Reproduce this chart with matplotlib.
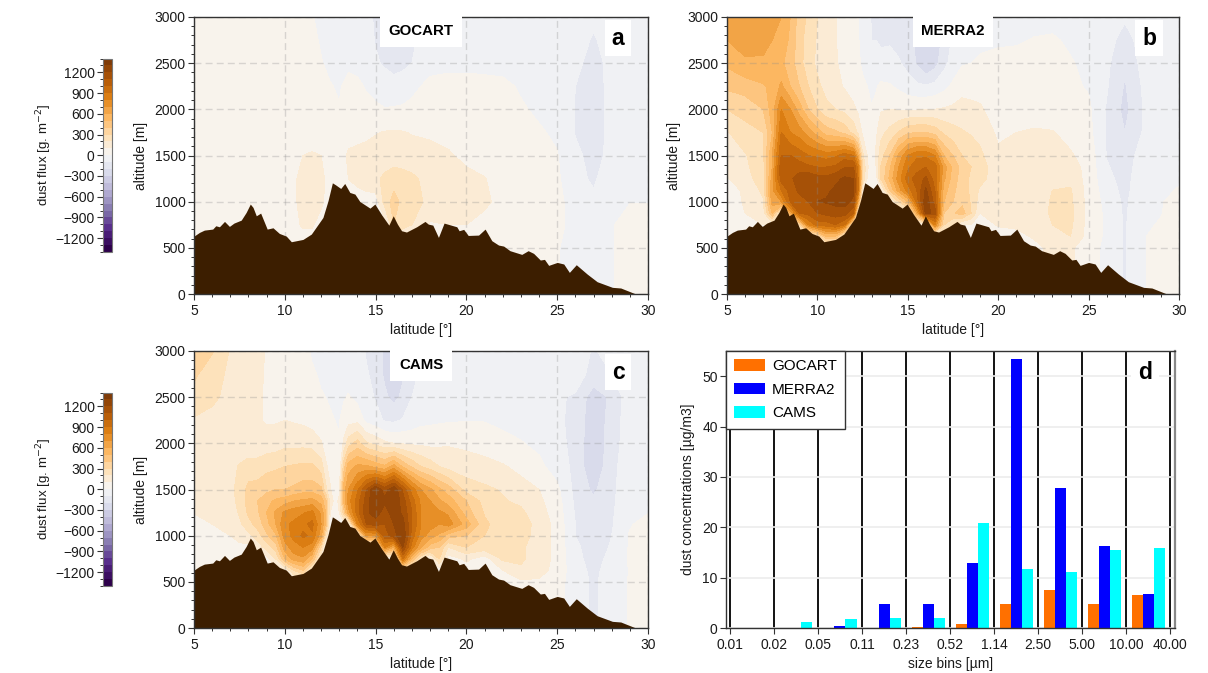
import numpy as np
import matplotlib
matplotlib.use("Agg")
import matplotlib.pyplot as plt
from matplotlib.colors import BoundaryNorm
from matplotlib.ticker import MultipleLocator

plt.rcParams['font.family'] = ['Liberation Sans', 'DejaVu Sans']
plt.rcParams['font.size'] = 10

terrain_lat = [5,5.3,5.57,6.03,6.2,6.4,6.68,6.95,7.2,7.6,7.87,8.1,8.25,8.43,8.67,9.03,9.35,9.7,10.08,10.36,
    11,11.46,12.1,12.38,12.62,12.79,13.08,13.3,13.58,13.86,14.13,14.69,14.96,15.33,15.73,15.97,16.2,16.43,16.7,
    17.26,17.72,17.9,18.15,18.46,18.77,19.47,19.6,19.85,20.1,20.67,21.03,21.4,21.77,22.05,22.4,23.05,23.4,23.7,
    24.07,24.3,24.53,25,25.36,25.67,26.05,26.65,27.2,28.04,28.5,29.33,30]
terrain_alt = [627,667,692,703,739,728,786,732,768,800,883,974,938,847,876,703,717,656,627,566,
    591,649,829,1010,1204,1183,1143,1197,1100,1082,1002,930,974,858,746,847,757,685,671,
    728,786,757,746,613,768,728,685,700,634,638,703,577,530,519,469,429,469,440,
    368,375,310,342,325,234,317,216,133,72,65,0,0]

gocart_lat = [5,6,7,7.5,8,9,10,11,11.5,12,12.5, 13,13.5,14,14.5,15,15.5,16,16.5,17,18,19, 20,21,22,23,24,25,26,27,28,29,30]
gocart_alt = [3000,2750,2500,2250,2000,1750,1500,1250,1000,750,500,0]
gocart_flux = [
 [50,50,50,50,50,50,50,20,5,-20,-30, -40,-50,-60,-80,-110,-130,-140,-130,-110,-70,-50, -40,-40,-40,-40,-40,-40,-50,-80,-50,-40,-40],
 [50,50,50,50,50,50,50,30,20,-10,-20, -30,-40,-50,-70,-105,-130,-140,-130,-110,-70,-50, -40,-40,-40,-40,-40,-40,-60,-110,-60,-40,-40],
 [50,50,50,50,50,50,50,40,30,5,-20, -30,-20,-30,-60,-90,-110,-130,-120,-100,-40,-30, -30,-30,-30,-30,-40,-40,-80,-130,-75,-40,-40],
 [50,50,50,50,50,50,50,50,40,30,5, -10,30,20,-10,-40,-60,-70,-60,-30,30,40, 40,30,20,-10,-30,-40,-100,-135,-75,-40,-40],
 [50,50,50,50,50,50,50,50,50,40,20, 5,40,40,30,20,5,10,15,30,50,50, 50,50,40,10,-15,-30,-105,-135,-75,-40,-40],
 [50,50,50,50,50,50,50,50,50,50,30, 15,60,70,80,95,105,110,105,95,85,60, 50,50,50,30,10,-15,-105,-140,-75,-30,-30],
 [50,50,50,50,50,50,50,100,110,100,40, 50,115,125,130,135,140,150,140,135,130,115, 70,50,50,45,30,5,-80,-130,-75,-30,-30],
 [50,50,50,50,50,50,50,125,130,130,50, 50,100,130,150,180,220,250,240,220,165,150, 130,105,50,50,40,15,-70,-115,-40,-20,-15],
 [50,50,50,50,50,50,50,125,130,120,50, 50,50,50,60,50,240,340,270,260,160,140, 120,130,50,50,40,30,-50,-80,-20,-5,-5],
 [50,50,50,50,50,50,50,110,110,60,50, 50,50,50,50,50,50,300,230,200,90,100, 100,50,50,50,40,30,-40,-60,-10,50,50],
 [50,50,50,50,50,50,50,50,50,50,50, 50,50,50,50,50,50,50,50,50,50,50, 50,50,50,50,20,5,-30,-40,-10,50,50],
 [50,50,50,50,50,50,50,50,50,50,50, 50,50,50,50,50,50,50,50,50,50,50, 50,50,50,50,20,5,-30,-40,-10,50,50],
]

fine_lat = [5,6,7,7.5,8,8.5,9,9.5,10,10.5,11,11.5,12,12.25,12.5,12.75,13,13.25,13.5,14,14.5,15,15.5,16,16.5,17,17.5,18,18.5,19,20,21,22,23,24,25,26,27,28,29,30]
fine_alt = [3000,2750,2500,2250,2000,1750,1500,1375,1250,1125,1000,875,750,625,500]

# one line per latitude, altitudes from 3000 m down to 500 m
merra2_by_lat = [
 [650,600,520,420,300,190,150,120,90,50,50,50,50,50,50],
 [680,650,580,450,330,270,190,180,170,120,110,100,60,50,50],
 [680,640,580,490,400,300,280,260,240,220,190,150,100,50,50],
 [620,600,530,520,550,500,600,600,650,680,650,500,100,50,50],
 [600,560,520,620,800,900,1000,1080,1050,900,700,100,50,50,50],
 [500,480,450,500,700,800,1000,1100,1080,1050,1000,600,50,50,50],
 [350,340,340,400,550,750,950,1050,1150,1120,1060,1000,300,50,50],
 [280,250,240,300,400,650,900,1020,1180,1130,1100,1030,800,50,50],
 [200,190,180,220,300,550,880,1000,1140,1170,1200,1100,950,200,50],
 [150,150,150,170,220,450,850,1000,1130,1180,1210,1130,950,500,50],
 [110,105,110,130,200,420,880,1020,1170,1220,1230,1150,1000,500,50],
 [50,60,70,90,170,370,950,1090,1220,1240,1240,1150,900,100,50],
 [10,20,30,50,120,260,900,1100,1200,1220,1180,1000,100,50,50],
 [0,5,10,30,80,180,600,850,900,900,600,50,50,50,50],
 [-30,-20,-10,10,40,80,220,300,300,100,50,50,50,50,50],
 [-60,-50,-50,0,20,50,100,120,100,50,50,50,50,50,50],
 [-110,-100,-90,-20,5,15,30,30,50,50,50,50,50,50,50],
 [-130,-100,-90,-10,30,80,120,100,50,50,50,50,50,50,50],
 [-140,-110,-80,20,90,170,250,300,300,50,50,50,50,50,50],
 [-130,-110,-70,10,100,230,400,480,520,400,50,50,50,50,50],
 [-140,-130,-90,-20,90,310,620,700,750,650,300,50,50,50,50],
 [-190,-170,-130,-60,90,380,800,880,950,850,500,50,50,50,50],
 [-210,-220,-210,-80,90,400,880,950,1050,1000,950,600,50,50,50],
 [-220,-260,-310,-90,100,400,880,1000,1120,1220,1280,1250,50,50,50],
 [-210,-240,-240,-70,100,360,800,950,950,1000,1050,1150,800,50,50],
 [-190,-180,-130,-30,110,280,500,650,620,550,500,400,300,50,50],
 [-90,-80,-60,20,120,240,400,470,450,420,400,380,200,50,50],
 [-50,-30,-10,70,130,210,300,360,350,350,370,450,100,50,50],
 [-40,-20,0,70,120,190,260,300,280,280,290,300,100,50,50],
 [-30,-15,10,70,110,170,220,250,240,180,150,100,40,50,50],
 [-30,-10,20,60,60,80,120,130,130,130,120,120,110,50,50],
 [-30,-10,30,60,55,100,140,160,170,150,130,150,130,50,50],
 [-30,5,50,60,55,110,130,150,150,150,150,130,130,120,50],
 [-40,15,50,40,50,105,130,150,160,200,210,220,200,180,150],
 [-50,-20,10,20,40,70,110,150,170,210,220,230,220,200,120],
 [-60,-50,-30,-10,20,30,60,60,60,60,60,60,60,60,30],
 [-60,-70,-80,-90,-110,-110,-105,-90,-70,-50,-30,-20,-20,-20,-20],
 [-90,-130,-180,-210,-230,-200,-160,-150,-140,-130,-120,-115,-110,-110,-110],
 [-60,-70,-70,-90,-100,-95,-50,-40,-30,-30,-20,-20,-20,-10,-10],
 [-40,-40,-40,-40,-40,-40,-30,-25,-20,-15,-10,-5,10,40,40],
 [-40,-40,-40,-40,-40,-40,-20,-15,-10,5,50,60,70,70,70],
]
cams_by_lat = [
 [340,320,260,190,170,150,130,120,105,50,50,50,50,50,50],
 [310,240,220,170,150,140,130,120,110,100,60,50,50,50,50],
 [190,180,170,150,130,160,170,160,150,130,100,60,50,50,50],
 [170,160,150,130,120,210,240,230,210,180,130,80,50,50,50],
 [150,140,130,120,130,240,330,340,320,260,170,70,50,50,50],
 [130,120,110,110,130,240,340,400,380,340,250,140,50,50,50],
 [90,90,90,90,140,270,370,470,500,460,380,240,60,50,50],
 [70,70,80,90,150,280,400,520,620,600,480,350,200,50,50],
 [60,60,70,100,170,300,400,550,720,780,750,650,500,100,50],
 [50,50,60,90,170,310,420,600,760,820,830,760,650,300,50],
 [30,40,50,80,170,320,450,620,790,870,920,800,680,400,50],
 [-10,10,30,60,160,320,450,640,830,930,880,750,500,100,50],
 [-20,-10,5,30,110,250,420,560,680,700,640,300,100,50,50],
 [-25,-15,0,20,50,120,230,420,500,480,250,50,50,50,50],
 [-30,-20,-10,10,20,60,110,170,100,50,50,50,50,50,50],
 [-35,-30,-20,0,5,20,40,60,80,50,50,50,50,50,50],
 [-40,-40,-30,-5,5,20,80,120,100,50,50,50,50,50,50],
 [-45,-45,-10,40,120,350,550,520,350,50,50,50,50,50,50],
 [-50,-50,10,60,250,550,700,750,650,50,50,50,50,50,50],
 [-60,-60,-30,70,340,620,880,950,950,800,50,50,50,50,50],
 [-110,-90,-60,-30,210,620,1100,1150,1180,1100,700,50,50,50,50],
 [-120,-130,-110,-60,170,560,1300,1300,1250,1150,700,50,50,50,50],
 [-220,-220,-180,-110,120,520,1150,1220,1150,1100,1050,800,50,50,50],
 [-230,-240,-230,-120,100,640,1280,1300,1250,1200,1150,600,50,50,50],
 [-210,-210,-180,-90,90,480,1080,1150,1180,1240,1300,1200,900,200,50],
 [-130,-120,-100,-60,80,380,850,950,1000,1000,950,850,500,50,50],
 [-105,-90,-60,-30,80,300,700,780,780,800,750,600,200,50,50],
 [-50,-50,-40,-20,70,250,620,700,740,750,650,450,50,50,50],
 [-45,-45,-35,-15,80,200,520,620,720,700,580,400,300,50,50],
 [-40,-40,-30,-10,90,160,450,550,680,750,450,200,50,50,50],
 [-40,-40,-30,-5,80,140,260,400,450,550,400,300,120,50,50],
 [-40,-40,-30,-5,60,130,220,260,290,320,300,260,50,50,50],
 [-40,-40,-30,-20,25,110,190,210,250,250,230,220,220,100,50],
 [-40,-40,-40,-30,5,70,140,180,220,240,230,210,210,190,80],
 [-40,-40,-40,-40,-20,20,100,120,140,170,170,170,170,150,80],
 [-50,-50,-90,-80,-70,-40,20,40,50,60,60,60,60,50,30],
 [-50,-60,-110,-130,-130,-130,-130,-120,-110,-100,-100,-80,-70,-50,-40],
 [-110,-130,-260,-270,-280,-280,-220,-180,-170,-160,-150,-150,-140,-130,-120],
 [-60,-100,-180,-160,-150,-130,-120,-120,-115,-110,-100,-90,-70,-50,-40],
 [-40,-40,-40,-40,-40,-40,-40,-30,-10,-10,10,10,10,5,5],
 [-40,-40,-40,-40,-40,-40,-30,-20,-5,40,60,60,60,60,60],
]

size_bins = ['0.01','0.02','0.05','0.11','0.23','0.52','1.14','2.50','5.00','10.00','40.00']
gocart_conc = [0,0,0,0,0.2,0.8,4.8,7.6,4.7,6.6]
merra2_conc = [0,0,0.4,4.7,4.8,13.0,53.5,27.8,16.3,6.8]
cams_conc = [0,1.1,1.8,1.9,2.0,20.8,11.8,11.1,15.5,15.8]

W, H = 1208, 673
fig = plt.figure(figsize=(W/100, H/100), dpi=100)

def pix_axes(x0, y0, x1, y1):
    return fig.add_axes([x0/W, 1-y1/H, (x1-x0)/W, (y1-y0)/H])

levels = np.arange(-1400, 1401, 100)
norm = BoundaryNorm(levels, 256)
SPINE = '#333333'

def style(ax):
    for s in ax.spines.values():
        s.set_color(SPINE)
        s.set_linewidth(1.0)
        s.set_zorder(5)
    ax.tick_params(which='major', direction='out', length=4.5, width=0.8, color=SPINE, labelcolor='#1a1a1a')
    ax.tick_params(which='minor', direction='out', length=2.5, width=0.7, color=SPINE)
    ax.tick_params(axis='y', which='major', pad=1.5)
    ax.tick_params(axis='x', which='major', pad=3)

def panel(box, lat, alt, flux, name, letter):
    ax = pix_axes(*box)
    cf = ax.contourf(lat, alt, flux, levels=levels, cmap='PuOr_r', norm=norm, zorder=1)
    ax.fill_between(terrain_lat, 0, terrain_alt, color='#3c1e00', lw=0, zorder=3)
    ax.set_xlim(5, 30)
    ax.set_ylim(0, 3000)
    ax.set_xticks([5, 10, 15, 20, 25, 30])
    ax.set_yticks(np.arange(0, 3001, 500))
    ax.xaxis.set_minor_locator(MultipleLocator(1))
    ax.yaxis.set_minor_locator(MultipleLocator(100))
    ax.grid(True, which='major', color='#8c8c8c', alpha=0.3, ls=(0, (5, 3)), lw=1.0)
    ax.set_axisbelow(False)
    for ln in ax.get_xgridlines() + ax.get_ygridlines():
        ln.set_zorder(2)
    ax.set_xlabel('latitude [°]', labelpad=3, color='#1a1a1a')
    ax.set_ylabel('altitude [m]', labelpad=5, color='#1a1a1a')
    style(ax)
    ax.text(0.5, 0.949, name, transform=ax.transAxes, ha='center', va='center', fontsize=10.8,
            fontweight='bold', color='black', zorder=6,
            bbox=dict(fc='white', ec='none', pad=6))
    ax.text(0.934, 0.924, letter, transform=ax.transAxes, ha='center', va='center', fontsize=16.5,
            fontweight='bold', color='black', zorder=6,
            bbox=dict(fc='white', ec='none', pad=5))
    return cf

def with_ground(by_lat):
    rows = np.array(by_lat, float).T
    return np.vstack([rows, rows[-1]])

ground_alt = fine_alt + [0]
cf_a = panel((194, 17, 648, 294), gocart_lat, gocart_alt, np.array(gocart_flux, float), 'GOCART', 'a')
panel((727, 17, 1179, 294), fine_lat, ground_alt, with_ground(merra2_by_lat), 'MERRA2', 'b')
cf_c = panel((194, 351, 648, 628), fine_lat, ground_alt, with_ground(cams_by_lat), 'CAMS', 'c')

def colorbar(cf, box):
    cax = pix_axes(*box)
    cb = fig.colorbar(cf, cax=cax, ticks=np.arange(-1200, 1201, 300))
    cax.yaxis.set_ticks_position('left')
    cax.yaxis.set_label_position('left')
    cax.set_yticks(np.arange(-1400, 1401, 100), minor=True)
    cax.tick_params(which='major', length=4.5, width=0.8, color=SPINE, pad=1.5, labelcolor='#1a1a1a')
    cax.tick_params(which='minor', length=2.5, width=0.7, color=SPINE)
    cb.outline.set_edgecolor('#777777')
    cb.outline.set_linewidth(0.8)
    cb.set_label('dust flux [g. m$^{-2}$]', labelpad=1, color='#1a1a1a', fontsize=9.6)

colorbar(cf_a, (103, 58.5, 112, 252))
colorbar(cf_c, (103, 392.5, 112, 586))

ax = pix_axes(726, 351, 1174.5, 628)
bins = np.arange(len(gocart_conc))
ax.bar(bins + 0.25, gocart_conc, 0.25, color='#ff7000', label='GOCART', zorder=3)
ax.bar(bins + 0.50, merra2_conc, 0.25, color='#0000ff', label='MERRA2', zorder=3)
ax.bar(bins + 0.75, cams_conc, 0.25, color='#00ffff', label='CAMS', zorder=3)
ax.set_xlim(-0.09, 10.1)
ax.set_ylim(0, 55)
ax.set_xticks(np.arange(len(size_bins)))
ax.set_xticklabels(size_bins)
ax.set_yticks(np.arange(0, 51, 10))
ax.grid(True, axis='x', color='black', lw=1.3, zorder=2)
ax.grid(True, axis='y', color='#ececec', lw=1.2, zorder=1)
ax.set_axisbelow(True)
ax.set_xlabel('size bins [µm]', labelpad=3.5, color='#1a1a1a')
ax.set_ylabel('dust concentrations [µg/m3]', labelpad=5, color='#1a1a1a')
style(ax)
ax.spines['right'].set_color('#888888')
ax.spines['right'].set_linewidth(1.6)
leg = ax.legend(loc='upper left', bbox_to_anchor=(0, 1), borderaxespad=0, fontsize=11,
                fancybox=False, framealpha=1, edgecolor=SPINE, handlelength=2.0, handleheight=0.75,
                labelspacing=0.62, borderpad=0.55, handletextpad=0.45)
leg.get_frame().set_linewidth(1.0)
leg.set_zorder(8)
ax.text(0.934, 0.924, 'd', transform=ax.transAxes, ha='center', va='center', fontsize=16.5,
        fontweight='bold', color='black', zorder=6, bbox=dict(fc='white', ec='none', pad=5))

fig.savefig('out.png', dpi=100)
